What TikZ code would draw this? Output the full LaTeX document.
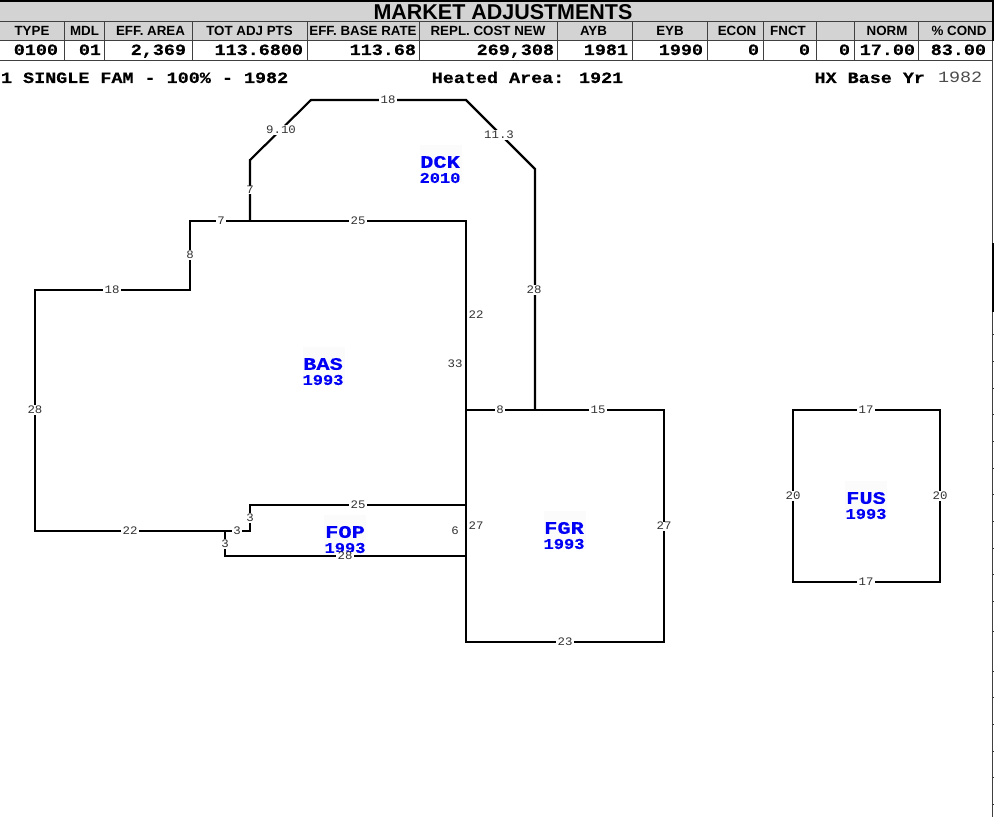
\documentclass[tikz,border=0pt]{standalone}
\usepackage{fontspec}
\setmainfont{Liberation Sans}
\newfontfamily\wmono[FakeStretch=1.17,BoldFeatures={FakeBold=0.4}]{Liberation Mono}
\newfontfamily\xmono[FakeStretch=1.25,BoldFeatures={FakeBold=0.4}]{Liberation Mono}
\newfontfamily\ymono[FakeStretch=1.14,BoldFeatures={FakeBold=0.3}]{Liberation Mono}
\newfontfamily\dmono[FakeStretch=1.08]{Liberation Mono}
\definecolor{hdrgrey}{HTML}{D3D3D3}
\definecolor{dimtxt}{HTML}{333333}
\definecolor{planblue}{HTML}{0000F4}
\definecolor{faint}{HTML}{FBFBFB}
\tikzset{
  x=0.75pt,y=-0.75pt,
  every node/.style={inner sep=0pt,outer sep=0pt},
  wall/.style={draw=black,line width=1.6pt,line join=miter},
  rule/.style={draw=black!75,line width=0.75pt},
  hdr/.style={font=\fontsize{10}{11}\selectfont\bfseries,anchor=center},
  val/.style={font=\wmono\fontsize{11.8}{12}\selectfont\bfseries,anchor=base east},
  info/.style={font=\wmono\fontsize{11.8}{12}\selectfont\bfseries},
  dimlab/.style={font=\dmono\fontsize{8.6}{9}\selectfont,text=dimtxt,fill=white,inner xsep=1pt,inner ysep=0.5pt},
  plainlab/.style={font=\dmono\fontsize{8.6}{9}\selectfont,text=dimtxt},
  area/.style={font=\xmono\fontsize{13.2}{14}\selectfont\bfseries,text=planblue},
  areayr/.style={font=\ymono\fontsize{11.2}{12}\selectfont\bfseries,text=planblue},
}
\begin{document}
\begin{tikzpicture}
\useasboundingbox (0,0) rectangle (994,817);
\fill[white] (0,0) rectangle (994,817);
% header bands
\fill[hdrgrey] (0,0) rectangle (992,41);
\fill[black] (0,0) rectangle (994,2.5);
\draw[rule] (0,22) -- (992,22);
\draw[rule] (0,40.5) -- (992,40.5);
\draw[rule] (0,60.5) -- (992,60.5);
\foreach \xx in {64.5,104.5,192.5,307.5,419.5,557.5,632.5,707.5,763.5,816.5,854.5,918.5}
  \draw[rule] (\xx,22) -- (\xx,60.5);
\node[font=\fontsize{16.1}{17}\selectfont\bfseries] (title) at (503,12) {MARKET ADJUSTMENTS};
% column heads
\node[hdr] (h1) at (32,30.5) {TYPE};
\node[hdr] (h2) at (84.5,30.5) {MDL};
\node[hdr] (h3) at (150.5,30.5) {EFF. AREA};
\node[hdr] (h4) at (249.5,30.5) {TOT ADJ PTS};
\node[hdr] (h5) at (363,30.5) {EFF. BASE RATE};
\node[hdr] (h6) at (488,30.5) {REPL. COST NEW};
\node[hdr] (h7) at (593.5,30.5) {AYB};
\node[hdr] (h8) at (670,30.5) {EYB};
\node[hdr] (h9) at (737,30.5) {ECON};
\node[hdr] (h10) at (788,30.5) {FNCT};
\node[hdr] (h11) at (887,30.5) {NORM};
\node[hdr] (h12) at (959,30.5) {\% COND};
% values
\node[val] (v1) at (58,55) {0100};
\node[val] (v2) at (101,55) {01};
\node[val] (v3) at (186,55) {2,369};
\node[val] (v4) at (303,55) {113.6800};
\node[val] (v5) at (416,55) {113.68};
\node[val] (v6) at (554,55) {269,308};
\node[val] (v7) at (628,55) {1981};
\node[val] (v8) at (703,55) {1990};
\node[val] (v9) at (759,55) {0};
\node[val] (v10) at (810,55) {0};
\node[val] (v11) at (850,55) {0};
\node[val] (v12) at (915,55) {17.00};
\node[val] (v13) at (986,55) {83.00};
% info line
\node[info,anchor=base west] (i1) at (1,83) {1 SINGLE FAM - 100\% - 1982};
\node[info,anchor=base] (i2) at (527.5,83) {Heated Area: 1921};
\node[info,anchor=base east] (i3) at (925,83) {HX Base Yr};
\node[font=\wmono\fontsize{11.8}{12}\selectfont,text=black!70,anchor=base west] (i4) at (938,83) {1982};
% right border with ticks
\draw[black!75,line width=0.75pt] (992.5,41) -- (992.5,817);
\fill[black] (992,0) rectangle (994,41);
\fill[black] (992,243) rectangle (994,312);
\foreach \yy in {334,361,388,414,441,468,494,521,548,574,601,631,671,697,724,751,777,804}
  \draw[black!80,line width=0.75pt] (992.5,\yy) -- (994,\yy);
% faint panels behind the area labels
\foreach \cx/\cy in {441/164,324/366,345/534,565/530,866/500}
  \fill[faint] (\cx-21,\cy-19) rectangle (\cx+21,\cy+19);
% plan
\draw[wall] (35,290) -- (190,290) -- (190,221) -- (466,221) -- (466,505) -- (250,505) -- (250,531) -- (35,531) -- cycle;
\draw[wall] (250,221) -- (250,160) -- (311,100) -- (466,100) -- (535,169) -- (535,410);
\draw[wall] (466,410) -- (664,410) -- (664,642) -- (466,642) -- cycle;
\draw[wall] (250,531) -- (225,531) -- (225,556) -- (466,556) -- (466,505);
\draw[wall] (793,410) -- (940,410) -- (940,582) -- (793,582) -- cycle;
% dimensions
\node[dimlab] (d1) at (388,100) {18};
\node[plainlab,fill=white,inner sep=0.5pt] (d2) at (281,130) {9.10};
\node[plainlab,fill=white,inner sep=0.5pt] (d3) at (499,135) {11.3};
\node[dimlab] (d4) at (250,190) {7};
\node[dimlab] (d5) at (221,221) {7};
\node[dimlab] (d6) at (358,221) {25};
\node[dimlab] (d7) at (190,255) {8};
\node[dimlab] (d8) at (112,290) {18};
\node[dimlab] (d9) at (35,410) {28};
\node[plainlab] (d10) at (476,315) {22};
\node[plainlab] (d11) at (455,364) {33};
\node[dimlab] (d12) at (534,290) {28};
\node[dimlab] (d13) at (500,410) {8};
\node[dimlab] (d14) at (598,410) {15};
\node[dimlab] (d15) at (130,531) {22};
\node[dimlab] (d16) at (358,505) {25};
\node[dimlab] (d17) at (250,518) {3};
\node[dimlab] (d18) at (237,531) {3};
\node[dimlab] (d19) at (225,544) {3};
\node[plainlab] (d21) at (455,531) {6};
\node[plainlab] (d22) at (476,526) {27};
\node[dimlab] (d23) at (664,526) {27};
\node[dimlab] (d24) at (565,642) {23};
\node[dimlab] (d25) at (866,410) {17};
\node[dimlab] (d26) at (793,496) {20};
\node[dimlab] (d27) at (940,496) {20};
\node[dimlab] (d28) at (866,582) {17};
% area labels
\node[area] (a1) at (440,162) {DCK};
\node[areayr] (a1y) at (440,178) {2010};
\node[area] (a2) at (323,364) {BAS};
\node[areayr] (a2y) at (323,380) {1993};
\node[area] (a3) at (345,532) {FOP};
\node[areayr] (a3y) at (345,548) {1993};
\node[dimlab,fill=white,inner ysep=0pt] (d20) at (345,556) {28};
\node[area] (a4) at (564,528) {FGR};
\node[areayr] (a4y) at (564,544) {1993};
\node[area] (a5) at (866,498) {FUS};
\node[areayr] (a5y) at (866,514) {1993};
\end{tikzpicture}
\end{document}
